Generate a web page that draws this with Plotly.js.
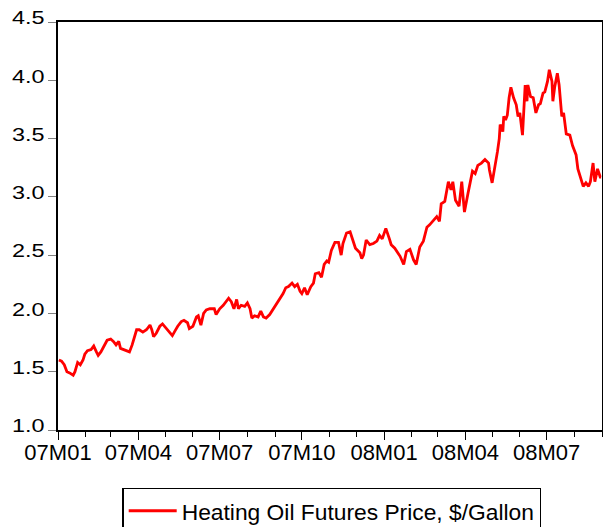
<!DOCTYPE html>
<html>
<head>
<meta charset="utf-8">
<script src="https://cdn.plot.ly/plotly-3.0.1.min.js"></script>
<style>
  html, body { margin: 0; padding: 0; background: #ffffff; }
  #chart { width: 603px; height: 527px; }
</style>
</head>
<body>
<div id="chart"></div>
<script>
// ---- Data ----
var seriesName = "Heating Oil Futures Price, $/Gallon";

var dates = [
  "2007-01-02","2007-01-05","2007-01-08","2007-01-11","2007-01-14","2007-01-18","2007-01-20","2007-01-23","2007-01-26","2007-01-29",
  "2007-01-31","2007-02-03","2007-02-07","2007-02-10","2007-02-13","2007-02-15","2007-02-18","2007-02-21","2007-02-25","2007-03-01",
  "2007-03-04","2007-03-07","2007-03-10","2007-03-12","2007-03-16","2007-03-20","2007-03-22","2007-03-25","2007-03-27","2007-03-30",
  "2007-04-02","2007-04-06","2007-04-10","2007-04-14","2007-04-16","2007-04-18","2007-04-21","2007-04-25","2007-04-28","2007-05-02",
  "2007-05-06","2007-05-09","2007-05-12","2007-05-15","2007-05-19","2007-05-22","2007-05-26","2007-05-28","2007-06-01","2007-06-05",
  "2007-06-07","2007-06-10","2007-06-13","2007-06-16","2007-06-20","2007-06-25","2007-06-27","2007-07-01","2007-07-05","2007-07-08",
  "2007-07-11","2007-07-14","2007-07-17","2007-07-20","2007-07-22","2007-07-25","2007-07-29","2007-08-01","2007-08-04","2007-08-06",
  "2007-08-09","2007-08-13","2007-08-16","2007-08-19","2007-08-22","2007-08-26","2007-08-30","2007-09-02","2007-09-06","2007-09-10",
  "2007-09-13","2007-09-16","2007-09-20","2007-09-23","2007-09-26","2007-09-29","2007-10-01","2007-10-04","2007-10-07","2007-10-11",
  "2007-10-14","2007-10-16","2007-10-20","2007-10-23","2007-10-26","2007-10-29","2007-10-31","2007-11-03","2007-11-07","2007-11-11",
  "2007-11-14","2007-11-16","2007-11-20","2007-11-24","2007-11-27","2007-11-30","2007-12-05","2007-12-07","2007-12-09","2007-12-12",
  "2007-12-16","2007-12-20","2007-12-24","2007-12-27","2007-12-30","2008-01-03","2008-01-07","2008-01-09","2008-01-13","2008-01-16",
  "2008-01-19","2008-01-23","2008-01-26","2008-01-30","2008-02-03","2008-02-06","2008-02-10","2008-02-14","2008-02-18","2008-02-21",
  "2008-02-25","2008-02-29","2008-03-03","2008-03-05","2008-03-09","2008-03-13","2008-03-16","2008-03-18","2008-03-21","2008-03-25",
  "2008-03-28","2008-03-31","2008-04-04","2008-04-06","2008-04-09","2008-04-12","2008-04-15","2008-04-19","2008-04-23","2008-04-27",
  "2008-04-28","2008-05-01","2008-05-04","2008-05-07","2008-05-09","2008-05-10","2008-05-13","2008-05-14","2008-05-16","2008-05-18",
  "2008-05-20","2008-05-22","2008-05-25","2008-05-28","2008-05-30","2008-06-01","2008-06-04","2008-06-07","2008-06-09","2008-06-10",
  "2008-06-13","2008-06-16","2008-06-19","2008-06-22","2008-06-24","2008-06-27","2008-06-29","2008-07-02","2008-07-04","2008-07-07",
  "2008-07-08","2008-07-10","2008-07-13","2008-07-15","2008-07-18","2008-07-20","2008-07-23","2008-07-27","2008-07-30","2008-08-03",
  "2008-08-05","2008-08-08","2008-08-11","2008-08-14","2008-08-17","2008-08-19","2008-08-22","2008-08-24","2008-08-27","2008-08-30",
  "2008-08-31"
];

var prices = [
  1.60,1.59,1.56,1.50,1.49,1.47,1.50,1.58,1.56,1.60,
  1.65,1.68,1.69,1.72,1.67,1.64,1.67,1.71,1.77,1.78,
  1.76,1.73,1.76,1.70,1.69,1.68,1.67,1.73,1.79,1.86,
  1.86,1.84,1.86,1.90,1.86,1.80,1.83,1.89,1.91,1.87,
  1.83,1.81,1.85,1.89,1.93,1.94,1.92,1.87,1.89,1.97,
  1.98,1.90,2.00,2.03,2.04,2.04,1.99,2.04,2.07,2.10,
  2.13,2.10,2.04,2.12,2.04,2.07,2.06,2.09,2.04,1.96,
  1.98,1.97,2.02,1.97,1.96,1.99,2.04,2.07,2.13,2.17,
  2.22,2.23,2.26,2.23,2.25,2.19,2.17,2.22,2.16,2.23,
  2.26,2.34,2.35,2.31,2.42,2.45,2.44,2.54,2.61,2.61,
  2.50,2.60,2.69,2.70,2.63,2.56,2.52,2.47,2.50,2.63,
  2.59,2.60,2.62,2.67,2.64,2.73,2.64,2.59,2.56,2.52,
  2.49,2.42,2.53,2.55,2.46,2.42,2.57,2.62,2.74,2.76,
  2.80,2.83,2.79,2.94,2.96,3.13,3.06,3.13,2.97,2.92,
  3.13,2.87,3.03,3.12,3.22,3.20,3.27,3.29,3.32,3.29,
  3.23,3.12,3.24,3.39,3.50,3.62,3.56,3.69,3.66,3.70,
  3.85,3.94,3.85,3.79,3.69,3.72,3.53,3.96,3.82,3.96,
  3.86,3.85,3.72,3.79,3.80,3.89,3.90,3.99,4.09,3.99,
  3.82,3.94,4.06,3.96,3.69,3.72,3.54,3.53,3.44,3.36,
  3.24,3.16,3.09,3.12,3.09,3.13,3.29,3.13,3.24,3.17,
  3.17
];

var yTickVals = [1.0, 1.5, 2.0, 2.5, 3.0, 3.5, 4.0, 4.5];
var yTickText = ["1.0","1.5","2.0","2.5","3.0","3.5","4.0","4.5"];

// ---- Chart ----
var FONT = "Liberation Sans, Arial, Helvetica, sans-serif";
var Y_STRETCH = 1.3;
var Y_LABEL_LIFT = 4;
var X_LABEL_LIFT = 6;

var trace = {
  x: dates,
  y: prices,
  type: "scatter",
  mode: "lines",
  name: seriesName,
  showlegend: true,
  line: { color: "#ff0000", width: 2.8 }
};

var layout = {
  width: 603,
  height: 527,
  margin: { l: 58, r: 1, t: 22, b: 97, autoexpand: false },
  paper_bgcolor: "#ffffff",
  plot_bgcolor: "#ffffff",
  font: { family: FONT, color: "#000000" },
  showlegend: true,
  xaxis: {
    type: "date",
    range: ["2007-01-01", "2008-09-01"],
    tick0: "2007-01-01",
    dtick: "M3",
    tickformat: "%yM%m",
    ticks: "outside",
    ticklen: 8,
    tickwidth: 1,
    tickcolor: "#000000",
    tickfont: { family: FONT, size: 22, color: "#000000" },
    minor: { dtick: "M1", ticks: "outside", ticklen: 5, tickwidth: 1, tickcolor: "#000000", showgrid: false },
    showgrid: false,
    zeroline: false,
    showline: true,
    linecolor: "#000000",
    linewidth: 2,
    mirror: true,
    fixedrange: true
  },
  yaxis: {
    range: [1.0, 4.5],
    tickvals: yTickVals,
    ticktext: yTickText,
    ticks: "outside",
    ticklen: 8,
    tickwidth: 1,
    tickcolor: "#808080",
    tickfont: { family: FONT, size: 18, color: "#000000" },
    showgrid: false,
    zeroline: false,
    showline: true,
    linecolor: "#000000",
    linewidth: 2,
    mirror: true,
    fixedrange: true
  },
  legend: {
    x: 0.118,
    xanchor: "left",
    y: -0.142,
    yanchor: "top",
    orientation: "h",
    bgcolor: "#ffffff",
    bordercolor: "#000000",
    borderwidth: 1.5,
    itemwidth: 48,
    font: { family: FONT, size: 22.8, color: "#000000" }
  }
};

function nudge(selector, sx, dy) {
  document.querySelectorAll(selector).forEach(function (t) {
    var x = parseFloat(t.getAttribute("x")) || 0;
    var tr = t.getAttribute("transform") || "";
    t.setAttribute("transform", tr + " translate(0," + (-dy) + ") translate(" + x + ",0) scale(" + sx + ",1) translate(" + (-x) + ",0)");
  });
}

Plotly.newPlot("chart", [trace], layout, { staticPlot: true, displayModeBar: false }).then(function () {
  nudge(".ytick text", Y_STRETCH, Y_LABEL_LIFT);
  nudge(".xtick text", 1, X_LABEL_LIFT);
});
</script>
</body>
</html>
